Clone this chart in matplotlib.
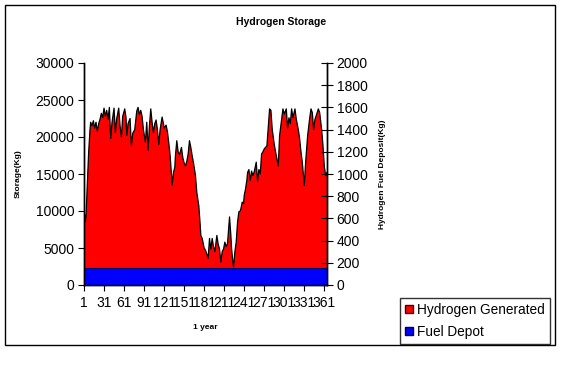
import matplotlib
matplotlib.use("Agg")
import matplotlib.pyplot as plt
from matplotlib.patches import Patch, Rectangle

plt.rcParams['font.family'] = ['Liberation Sans', 'DejaVu Sans']

# day of year and hydrogen in storage (kg)
days = [1, 2, 3, 4, 5, 6, 8, 10, 11, 13,
        15, 17, 19, 21, 23, 25, 27, 29, 31, 33,
        35, 37, 39, 41, 43, 46, 48, 50, 53, 55,
        57, 59, 62, 64, 65, 67, 70, 72, 74, 77,
        80, 82, 84, 86, 88, 90, 93, 95, 97, 99,
        101, 103, 105, 107, 109, 111, 113, 115, 118, 120,
        121, 124, 126, 128, 130, 132, 133, 135, 137, 138,
        140, 142, 144, 147, 149, 151, 153, 155, 157, 159,
        161, 163, 165, 168, 170, 173, 175, 176, 178, 181,
        183, 185, 187, 189, 191, 193, 195, 197, 200, 202,
        204, 206, 208, 210, 212, 214, 216, 219, 221, 222,
        224, 225, 227, 229, 231, 233, 235, 236, 238, 240,
        241, 243, 245, 246, 248, 250, 252, 254, 256, 259,
        261, 263, 265, 267, 269, 271, 273, 275, 277, 279,
        281, 283, 286, 289, 292, 294, 297, 299, 301, 304,
        306, 308, 310, 312, 314, 317, 319, 322, 324, 326,
        328, 331, 333, 336, 339, 341, 343, 345, 347, 350,
        352, 354, 357, 359, 361, 363, 365]
hydrogen = [8000, 9500, 8600, 9300, 11500, 14000, 18000, 21000, 22000, 21500,
            22200, 21200, 22000, 20800, 21800, 22400, 23200, 22600, 23900, 22800,
            23600, 22400, 24000, 19800, 22000, 23900, 20600, 22500, 23900, 21500,
            20000, 22800, 23800, 22600, 20200, 21800, 22500, 18800, 20500, 21000,
            23500, 24000, 23000, 23600, 22800, 21000, 19300, 22000, 18200, 21500,
            23800, 22000, 20600, 21800, 22300, 21000, 19000, 21000, 22700, 21800,
            21200, 21600, 20700, 19200, 17500, 15000, 13500, 15200, 15900, 17500,
            19500, 18000, 17600, 18600, 17200, 16500, 16100, 16700, 17700, 19500,
            18600, 17500, 16500, 14800, 12500, 10700, 8200, 6700, 6300, 5000,
            4700, 4200, 3600, 6300, 4850, 6300, 5200, 4500, 6700, 5500,
            4850, 3100, 4500, 4850, 5800, 5200, 5600, 9200, 6700, 5000,
            3100, 2500, 4500, 5800, 8500, 9900, 10000, 10300, 11200, 11000,
            12100, 13000, 14200, 15200, 15600, 14100, 15400, 14800, 15300, 16600,
            14000, 15600, 15000, 17700, 18000, 18400, 18600, 18800, 21300, 23800,
            23600, 21000, 19000, 17500, 16100, 20200, 22400, 23800, 23100, 23800,
            21200, 22600, 21800, 23800, 22600, 23800, 22400, 21000, 19800, 18000,
            16600, 13450, 16600, 20200, 22500, 23800, 23300, 21000, 22400, 23200,
            23800, 23300, 21000, 18800, 16000, 14800, 15200]

# fuel depot level (kg, right axis)
depot_days = [1, 365]
depot = [155, 155]

xtick_days = list(range(1, 362, 30))

fig = plt.figure(figsize=(5.64, 3.80), dpi=100)
ax = fig.add_axes([84/564, 1 - 285/380, 243/564, 222/380])
ax2 = ax.twinx()

ax.fill_between(days, 0, hydrogen, facecolor='#ff0000', edgecolor='none')
ax.plot(days, hydrogen, color='black', lw=0.9)
ax2.fill_between(depot_days, 0, depot, facecolor='#0000ff', edgecolor='#000060', lw=0.8)

ax.set_xlim(1, 365)
ax.set_ylim(0, 30000)
ax2.set_ylim(0, 2000)
ax.set_yticks(range(0, 30001, 5000))
ax2.set_yticks(range(0, 2001, 200))
ax.set_xticks(xtick_days)
ax.set_xticklabels([str(d) for d in xtick_days])

for a in (ax, ax2):
    a.spines['top'].set_visible(False)
    for s in a.spines.values():
        s.set_linewidth(1.0)
ax.tick_params(axis='y', direction='out', length=4, labelsize=10, pad=3)
ax.tick_params(axis='x', direction='out', length=4, labelsize=10, pad=4)
ax2.tick_params(axis='y', direction='inout', length=8, labelsize=10, pad=3)

ax.set_ylabel('Storage(Kg)', fontsize=6, fontweight='bold', labelpad=10)
ax2.set_ylabel('Hydrogen Fuel Deposit(Kg)', fontsize=6, fontweight='bold', labelpad=8)
ax.set_xlabel('1 year', fontsize=6, fontweight='bold', labelpad=10)

fig.text(281/564, 1 - 22/380, 'Hydrogen Storage', ha='center', va='center',
         fontsize=7.5, fontweight='bold')

# outer chart border
fig.patches.append(Rectangle((5/564, 1 - 345/380), 550/564, 340/380, transform=fig.transFigure,
                             fill=False, edgecolor='black', lw=1.0))

handles = [Patch(facecolor='#ff0000', edgecolor='#400000', label='Hydrogen Generated'),
           Patch(facecolor='#0000ff', edgecolor='#000040', label='Fuel Depot')]
leg = fig.legend(handles=handles, loc='upper left', bbox_to_anchor=(400/564, 1 - 298/380),
                 fontsize=9.8, frameon=True, fancybox=False, handlelength=0.6, handleheight=0.6,
                 handletextpad=0.3, borderpad=0.35, labelspacing=0.6, borderaxespad=0)
leg.get_frame().set_edgecolor('black')
leg.get_frame().set_linewidth(1.0)

fig.savefig('out.png', dpi=100)
